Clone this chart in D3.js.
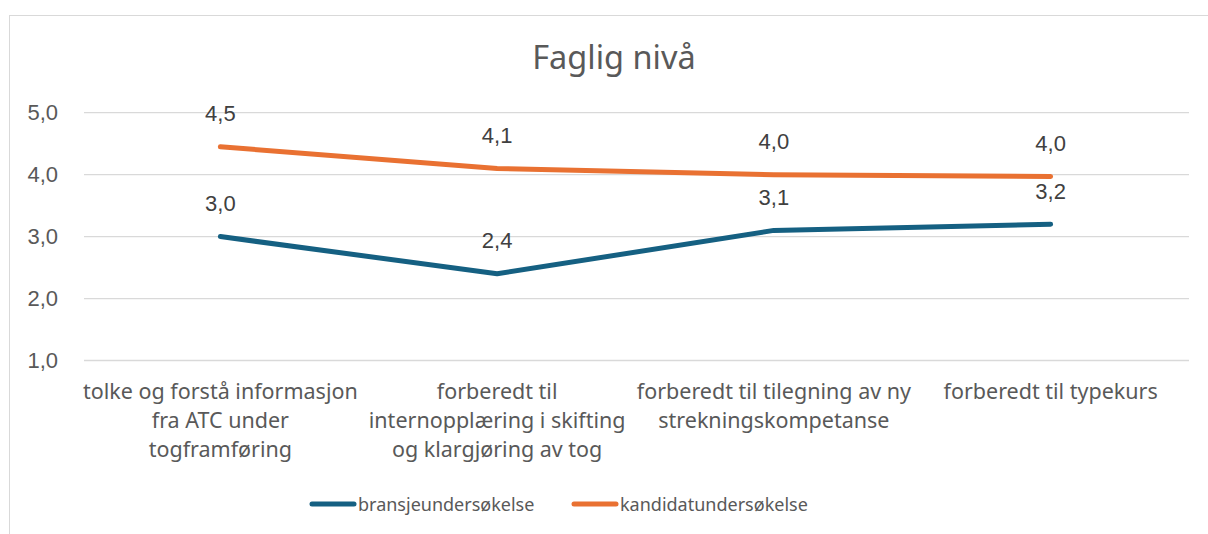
<!DOCTYPE html>
<html>
<head>
<meta charset="utf-8">
<script src="https://cdn.jsdelivr.net/npm/d3@7"></script>
<style>
  body { margin: 0; background: #fff; }
  svg { display: block; }
</style>
</head>
<body>
<svg id="chart"></svg>
<script>
var categories = [
  ['tolke og forstå informasjon', 'fra ATC under', 'togframføring'],
  ['forberedt til', 'internopplæring i skifting', 'og klargjøring av tog'],
  ['forberedt til tilegning av ny', 'strekningskompetanse'],
  ['forberedt til typekurs']
];
var seriesNames = ['bransjeundersøkelse', 'kandidatundersøkelse'];
var bransje = [3.0, 2.4, 3.1, 3.2];
var kandidat = [4.45, 4.1, 4.0, 3.97];
var yTicks = [1, 2, 3, 4, 5];

var width = 1208, height = 534;
var colors = ['#156082', '#e97132'];
var labelFont = '"Noto Sans", sans-serif';
var numFont = '"Liberation Sans", Arial, sans-serif';

var svg = d3.select('#chart').attr('width', width).attr('height', height);

// outer chart border
svg.append('rect')
  .attr('x', 9.5).attr('y', 15.5)
  .attr('width', 1220).attr('height', 540)
  .attr('fill', 'none').attr('stroke', '#d9d9d9').attr('stroke-width', 1);

svg.append('text')
  .attr('x', 614).attr('y', 69)
  .attr('text-anchor', 'middle')
  .attr('font-family', labelFont).attr('font-size', 32.5)
  .attr('fill', '#595959')
  .text('Faglig nivå');

var x = d3.scaleBand().domain(d3.range(categories.length)).range([82, 1189]);
var y = d3.scaleLinear().domain([1, 5]).range([360.5, 112.7]);

// gridlines
svg.append('g').selectAll('line').data(yTicks).enter().append('line')
  .attr('x1', 84).attr('x2', 1189)
  .attr('y1', function(d) { return y(d); }).attr('y2', function(d) { return y(d); })
  .attr('stroke', '#d9d9d9').attr('stroke-width', 1.3);

var yAxis = svg.append('g').attr('transform', 'translate(70,0)')
  .call(d3.axisLeft(y).tickValues(yTicks).tickSize(0).tickPadding(12).tickFormat(function(d) {
    return d3.format('.1f')(d).replace('.', ',');
  }));
yAxis.select('.domain').remove();
yAxis.selectAll('text')
  .attr('font-family', numFont).attr('font-size', 22).attr('fill', '#595959');

// category labels
var cat = svg.append('g').selectAll('text').data(categories).enter().append('text')
  .attr('text-anchor', 'middle')
  .attr('font-family', labelFont).attr('font-size', 21.5)
  .attr('fill', '#595959');
cat.selectAll('tspan').data(function(d, i) {
  return d.map(function(line) { return { line: line, i: i }; });
}).enter().append('tspan')
  .attr('x', function(d) { return x(d.i) + x.bandwidth() / 2; })
  .attr('y', function(d, j) { return 399 + j * 29; })
  .text(function(d) { return d.line; });

var line = d3.line()
  .x(function(d, i) { return x(i) + x.bandwidth() / 2; })
  .y(function(d) { return y(d); });

[bransje, kandidat].forEach(function(values, s) {
  svg.append('path')
    .datum(values)
    .attr('d', line)
    .attr('fill', 'none')
    .attr('stroke', colors[s])
    .attr('stroke-width', 5)
    .attr('stroke-linecap', 'round')
    .attr('stroke-linejoin', 'round');

  svg.append('g').selectAll('text').data(values).enter().append('text')
    .attr('x', function(d, i) { return x(i) + x.bandwidth() / 2; })
    .attr('y', function(d) { return y(d) - 25.5; })
    .attr('text-anchor', 'middle')
    .attr('font-family', numFont).attr('font-size', 22)
    .attr('fill', '#404040')
    .text(function(d) { return d3.format('.1f')(d).replace('.', ','); });
});

// legend
var legendX = [310, 572];
var legend = svg.append('g').selectAll('g').data(seriesNames).enter().append('g')
  .attr('transform', function(d, i) { return 'translate(' + legendX[i] + ',504)'; });
legend.append('line')
  .attr('x1', 2).attr('x2', 44).attr('y1', 0).attr('y2', 0)
  .attr('stroke', function(d, i) { return colors[i]; })
  .attr('stroke-width', 5).attr('stroke-linecap', 'round');
legend.append('text')
  .attr('x', 48).attr('y', 7)
  .attr('font-family', labelFont).attr('font-size', 18)
  .attr('fill', '#595959')
  .text(function(d) { return d; });
</script>
</body>
</html>
